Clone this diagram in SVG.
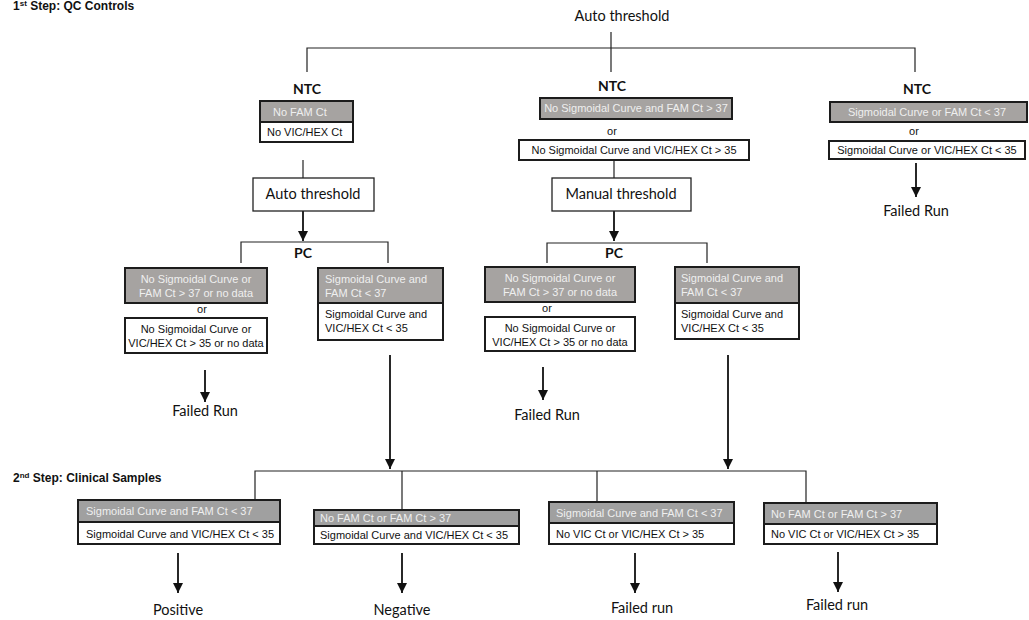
<svg xmlns="http://www.w3.org/2000/svg" width="1029" height="620" viewBox="0 0 1029 620">
<style>
.bg{fill:#ffffff}
.g{fill:#a6a3a1;stroke:#1c1c1c;stroke-width:2}
.g2{fill:#a0a0a0;stroke:#1c1c1c;stroke-width:2}
.w{fill:#ffffff;stroke:#1c1c1c;stroke-width:2}
.tb{fill:#ffffff;stroke:#222;stroke-width:1.3}
.bt{font-family:"Liberation Sans",Arial,sans-serif;font-size:11px}
.gt{fill:#efefef}
.wt{fill:#111}
.lab{font-family:Lato,"Liberation Sans",sans-serif;font-size:14.5px;fill:#111}
.hd{font-family:Lato,"Liberation Sans",sans-serif;font-size:14px;font-weight:bold;fill:#111}
.st{font-family:"Liberation Sans",Arial,sans-serif;font-size:12px;font-weight:bold;fill:#111}
.ln{fill:none;stroke:#222;stroke-width:1.2}
.ar{fill:none;stroke:#111;stroke-width:1.8;marker-end:url(#ah)}
.c{text-anchor:middle}
</style>
<defs>
<marker id="ah" viewBox="0 0 10 10" refX="10" refY="5" markerUnits="userSpaceOnUse" markerWidth="11" markerHeight="10" orient="auto">
<path d="M0,0 L10,5 L0,10 z" fill="#111"/>
</marker>
</defs>
<rect class="bg" x="0" y="0" width="1029" height="620"/>

<text id="title1" class="st" x="13" y="10">1<tspan font-size="8" dy="-4">st</tspan><tspan dy="4"> Step:  QC Controls</tspan></text>
<text id="title2" class="st" x="13" y="482">2<tspan font-size="8" dy="-4">nd</tspan><tspan dy="4"> Step: Clinical Samples</tspan></text>

<g id="connectors">
<path class="ln" d="M611,32 V72 M307,72 V48 H915 V72"/>
<path class="ln" d="M303,160 V178"/>
<path class="ln" d="M614,160 V178"/>
<path class="ar" d="M303,211 V241"/>
<path class="ar" d="M614,211 V241"/>
<path class="ln" d="M241,263 V242 H388 V263"/>
<path class="ln" d="M547,263 V243 H707 V263"/>
<path class="ar" d="M916,163 V197"/>
<path class="ar" d="M205,370 V402"/>
<path class="ar" d="M543,367 V400"/>
<path class="ar" d="M390,355 V469"/>
<path class="ar" d="M728,355 V469"/>
<path class="ln" d="M255,500 V471 H806 V503 M402,471 V510 M597,471 V502"/>
<path class="ar" d="M178,553 V593"/>
<path class="ar" d="M402,553 V593"/>
<path class="ar" d="M635,553 V593"/>
<path class="ar" d="M838,552 V592"/>
</g>

<g id="top-auto">
<text class="lab c" x="622" y="21">Auto threshold</text>
</g>

<g id="ntc-left">
<text class="hd c" x="307" y="94">NTC</text>
<rect class="g" x="260" y="101" width="93" height="21"/>
<rect class="w" x="260" y="122" width="93" height="20"/>
<text class="bt gt" x="273" y="116">No FAM Ct</text>
<text class="bt wt" x="267" y="136">No VIC/HEX Ct</text>
</g>

<g id="auto-box">
<rect class="tb" x="253" y="178" width="121" height="33"/>
<text class="lab c" x="313" y="199">Auto threshold</text>
</g>

<g id="ntc-mid">
<text class="hd c" x="612" y="91">NTC</text>
<rect class="g" x="540" y="98" width="192" height="21"/>
<text class="bt gt c" x="636" y="112">No Sigmoidal Curve and FAM Ct &gt; 37</text>
<text class="bt wt c" x="612" y="135">or</text>
<rect class="w" x="519" y="140" width="230" height="20"/>
<text class="bt wt c" x="634" y="154">No Sigmoidal Curve and VIC/HEX Ct &gt; 35</text>
</g>

<g id="manual-box">
<rect class="tb" x="552" y="178" width="139" height="33"/>
<text class="lab c" x="621" y="199">Manual threshold</text>
</g>

<g id="ntc-right">
<text class="hd c" x="917" y="94">NTC</text>
<rect class="g" x="830" y="102" width="197" height="20"/>
<text class="bt gt c" x="927" y="116">Sigmoidal Curve or FAM Ct &lt; 37</text>
<text class="bt wt c" x="914" y="135">or</text>
<rect class="w" x="829" y="141" width="196" height="18"/>
<text class="bt wt c" x="927" y="154">Sigmoidal Curve or VIC/HEX Ct &lt; 35</text>
<text class="lab c" x="916" y="216">Failed Run</text>
</g>

<g id="pc-left">
<text class="hd c" x="303" y="258">PC</text>
</g>

<g id="pc-left-fail">
<rect class="g" x="125" y="268" width="142" height="35"/>
<text class="bt gt c" x="196" y="283">No Sigmoidal Curve or</text>
<text class="bt gt c" x="196" y="297">FAM Ct &gt; 37 or no data</text>
<text class="bt wt c" x="202" y="313">or</text>
<rect class="w" x="125" y="318" width="142" height="35"/>
<text class="bt wt c" x="196" y="333">No Sigmoidal Curve or</text>
<text class="bt wt c" x="196" y="347">VIC/HEX Ct &gt; 35 or no data</text>
<text class="lab c" x="205" y="416">Failed Run</text>
</g>

<g id="pc-left-pass">
<rect class="g" x="318" y="268" width="125" height="35"/>
<rect class="w" x="318" y="303" width="125" height="37"/>
<text class="bt gt" x="325" y="283">Sigmoidal Curve and</text>
<text class="bt gt" x="325" y="297">FAM Ct &lt; 37</text>
<text class="bt wt" x="325" y="318">Sigmoidal Curve and</text>
<text class="bt wt" x="325" y="332">VIC/HEX Ct &lt; 35</text>
</g>

<g id="pc-mid">
<text class="hd c" x="614" y="258">PC</text>
</g>

<g id="pc-mid-fail">
<rect class="g" x="485" y="267" width="150" height="35"/>
<text class="bt gt c" x="560" y="282">No Sigmoidal Curve or</text>
<text class="bt gt c" x="560" y="296">FAM Ct &gt; 37 or no data</text>
<text class="bt wt c" x="547" y="312">or</text>
<rect class="w" x="485" y="317" width="150" height="34"/>
<text class="bt wt c" x="560" y="332">No Sigmoidal Curve or</text>
<text class="bt wt c" x="560" y="346">VIC/HEX Ct &gt; 35 or no data</text>
<text class="lab c" x="547" y="420">Failed Run</text>
</g>

<g id="pc-mid-pass">
<rect class="g" x="675" y="267" width="124" height="36"/>
<rect class="w" x="675" y="303" width="124" height="36"/>
<text class="bt gt" x="681" y="282">Sigmoidal Curve and</text>
<text class="bt gt" x="681" y="296">FAM Ct &lt; 37</text>
<text class="bt wt" x="681" y="318">Sigmoidal Curve and</text>
<text class="bt wt" x="681" y="332">VIC/HEX Ct &lt; 35</text>
</g>

<g id="cs-positive">
<rect class="g2" x="78" y="500" width="202" height="22"/>
<rect class="w" x="78" y="522" width="202" height="22"/>
<text class="bt gt" x="86" y="515">Sigmoidal Curve and FAM Ct &lt; 37</text>
<text class="bt wt" x="86" y="538">Sigmoidal Curve and VIC/HEX Ct &lt; 35</text>
<text class="lab c" x="178" y="615">Positive</text>
</g>

<g id="cs-negative">
<rect class="g2" x="314" y="510" width="205" height="16"/>
<rect class="w" x="314" y="526" width="205" height="18"/>
<text class="bt gt" x="320" y="522">No FAM Ct or FAM Ct &gt; 37</text>
<text class="bt wt" x="320" y="539">Sigmoidal Curve and VIC/HEX Ct &lt; 35</text>
<text class="lab c" x="402" y="615">Negative</text>
</g>

<g id="cs-failed1">
<rect class="g2" x="549" y="502" width="185" height="21"/>
<rect class="w" x="549" y="523" width="185" height="21"/>
<text class="bt gt" x="556" y="517">Sigmoidal Curve and FAM Ct &lt; 37</text>
<text class="bt wt" x="556" y="538">No VIC Ct or VIC/HEX Ct &gt; 35</text>
<text class="lab c" x="642" y="613">Failed run</text>
</g>

<g id="cs-failed2">
<rect class="g2" x="764" y="503" width="173" height="21"/>
<rect class="w" x="764" y="524" width="173" height="20"/>
<text class="bt gt" x="771" y="518">No FAM Ct or FAM Ct &gt; 37</text>
<text class="bt wt" x="771" y="538">No VIC Ct or VIC/HEX Ct &gt; 35</text>
<text class="lab c" x="837" y="610">Failed run</text>
</g>
</svg>
